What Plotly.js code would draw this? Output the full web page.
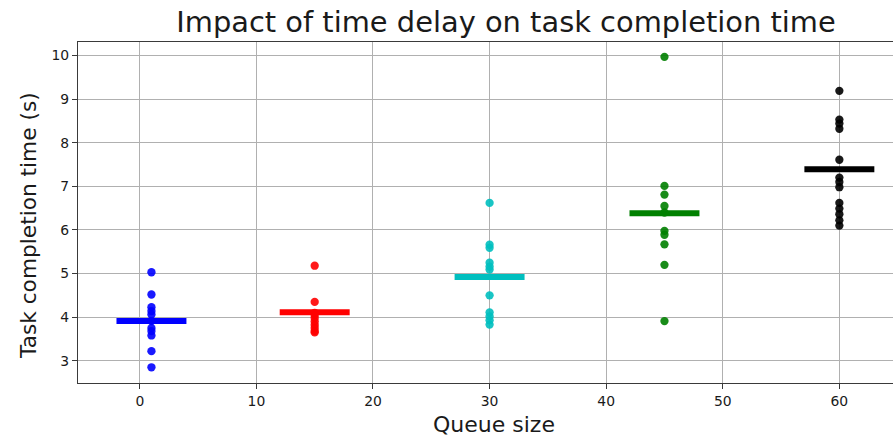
<!DOCTYPE html>
<html>
<head>
<meta charset="utf-8">
<script src="https://cdn.plot.ly/plotly-3.0.1.min.js"></script>
<style>
html,body{margin:0;padding:0;background:#fff;}
#chart{width:893px;height:439px;}
</style>
</head>
<body>
<div id="chart"></div>
<script>
// Queue sizes (x positions of each group)
const queueSizes = [1, 15, 30, 45, 60];
const colors = ['#0000ff', '#ff0000', '#00bfbf', '#008000', '#000000'];

// Task completion times per queue size (s)
const times_q1  = [5.03, 4.52, 4.23, 4.14, 4.06, 3.91, 3.75, 3.68, 3.58, 3.22, 2.85];
const times_q15 = [5.18, 4.35, 4.10, 4.05, 3.98, 3.90, 3.82, 3.75, 3.68, 3.65];
const times_q30 = [6.62, 5.66, 5.59, 5.25, 5.16, 5.09, 4.50, 4.11, 4.02, 3.93, 3.83];
const times_q45 = [9.97, 7.01, 6.81, 6.55, 6.40, 5.98, 5.89, 5.67, 5.20, 3.91];
const times_q60 = [9.19, 8.53, 8.44, 8.32, 7.61, 7.20, 7.10, 6.98, 6.62, 6.49, 6.36, 6.22, 6.10];

// Mean completion time per queue size (horizontal bars)
const means = [3.91, 4.11, 4.92, 6.38, 7.39];
const barHalfWidth = 3;

const groups = [times_q1, times_q15, times_q30, times_q45, times_q60];

const traces = [];
groups.forEach((vals, i) => {
  traces.push({
    type: 'scatter', mode: 'markers',
    x: vals.map(() => queueSizes[i]), y: vals,
    marker: {color: colors[i], size: 8.3, opacity: 0.9, line: {width: 0}},
    showlegend: false, hoverinfo: 'skip'
  });
});
groups.forEach((vals, i) => {
  traces.push({
    type: 'scatter', mode: 'lines',
    x: [queueSizes[i] - barHalfWidth, queueSizes[i] + barHalfWidth],
    y: [means[i], means[i]],
    line: {color: colors[i], width: 6},
    showlegend: false, hoverinfo: 'skip'
  });
});

const font = 'DejaVu Sans, sans-serif';
const W = 893, H = 439;
const layout = {
  width: W, height: H,
  paper_bgcolor: '#fff', plot_bgcolor: '#fff',
  margin: {l: 78, r: 0, t: 42, b: 56, pad: 0},
  title: {
    text: 'Impact of time delay on task completion time',
    font: {family: font, size: 28.9, color: '#1a1a1a'},
    xref: 'container', x: 506 / W, xanchor: 'center',
    yref: 'container', y: 1 - 22 / H, yanchor: 'middle'
  },
  xaxis: {
    range: [-5.3, 64.6],
    tickmode: 'array', tickvals: [0, 10, 20, 30, 40, 50, 60],
    ticktext: ['0', '10', '20', '30', '40', '50', '60'],
    showgrid: true, gridcolor: '#b0b0b0', gridwidth: 1,
    zeroline: false,
    showline: true, linecolor: '#3a3a3a', linewidth: 1.1, mirror: true,
    ticks: 'outside', ticklen: 5, tickcolor: '#3a3a3a', tickwidth: 1,
    tickfont: {family: font, size: 13.9, color: '#1a1a1a'}
  },
  yaxis: {
    range: [2.49, 10.31],
    tickmode: 'array', tickvals: [3, 4, 5, 6, 7, 8, 9, 10],
    ticktext: ['3', '4', '5', '6', '7', '8', '9', '10'],
    showgrid: true, gridcolor: '#b0b0b0', gridwidth: 1,
    zeroline: false,
    showline: true, linecolor: '#3a3a3a', linewidth: 1.1, mirror: false,
    ticks: 'outside', ticklen: 5, tickcolor: '#3a3a3a', tickwidth: 1,
    tickfont: {family: font, size: 13.9, color: '#1a1a1a'}
  },
  annotations: [
    {
      text: 'Queue size', showarrow: false,
      xref: 'paper', yref: 'paper',
      x: (494 - 78) / (W - 78), y: -(425 - 383) / (383 - 42),
      xanchor: 'center', yanchor: 'middle',
      font: {family: font, size: 22, color: '#1a1a1a'}
    },
    {
      text: 'Task completion time (s)', showarrow: false, textangle: -90,
      xref: 'paper', yref: 'paper',
      x: -(78 - 28) / (W - 78), y: (383 - 226) / (383 - 42),
      xanchor: 'center', yanchor: 'middle',
      font: {family: font, size: 21.7, color: '#1a1a1a'}
    }
  ]
};

Plotly.newPlot('chart', traces, layout, {displayModeBar: false, staticPlot: true});
</script>
</body>
</html>
